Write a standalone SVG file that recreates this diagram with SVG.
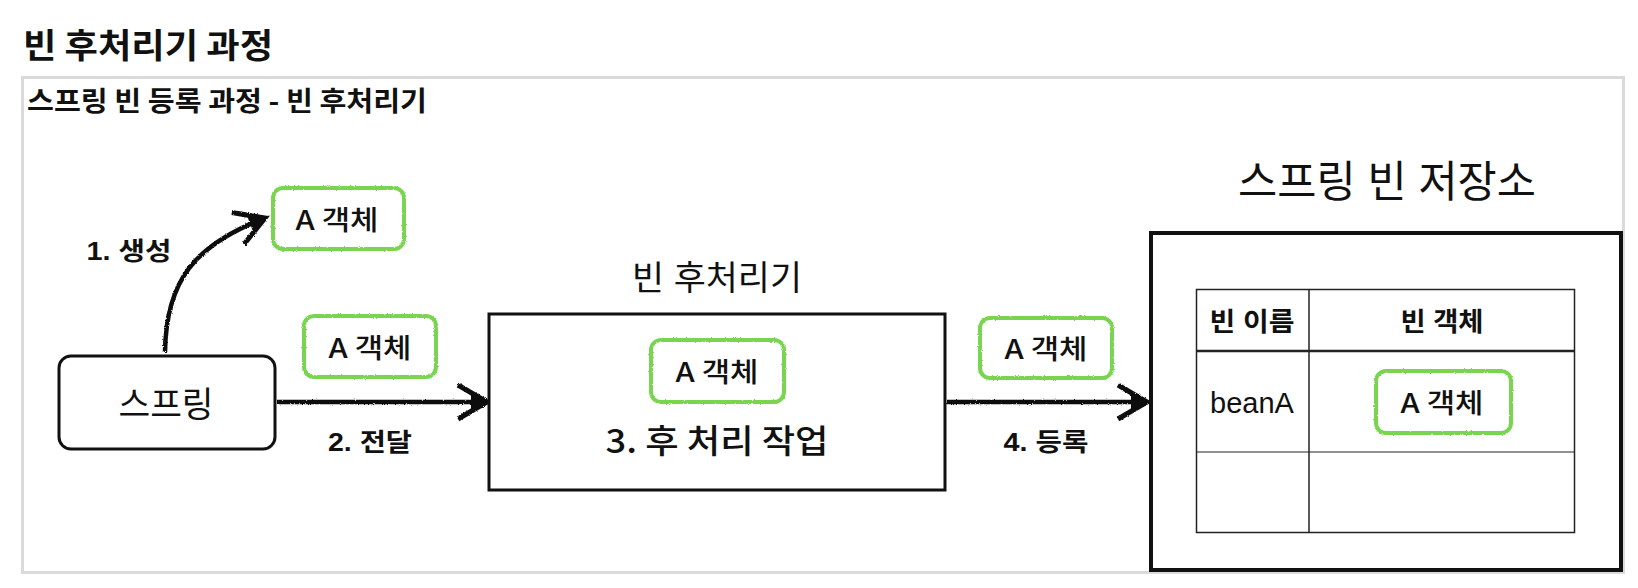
<svg xmlns="http://www.w3.org/2000/svg" width="1638" height="588" viewBox="0 0 1638 588">
<defs>
<style>
.t{font-family:"Liberation Sans","Noto Sans CJK KR",sans-serif;fill:#111}
.k{font-family:"Noto Sans CJK KR","Liberation Sans",sans-serif;fill:#111}
.b{font-weight:bold}
.md{font-weight:500}
.m{text-anchor:middle}
.obj{font-family:"Noto Sans CJK KR","Liberation Sans",sans-serif;fill:#111;font-weight:500;font-size:27px;text-anchor:middle}
.green{fill:#fff;stroke:#79d54f;stroke-width:4}
.box{fill:#fff;stroke:#111;stroke-width:3}
.conn{fill:none;stroke:#111;stroke-width:4.5}
.grid{stroke:#222;fill:none}
</style>
<filter id="rough" filterUnits="userSpaceOnUse" x="0" y="0" width="1638" height="588">
<feTurbulence type="fractalNoise" baseFrequency="0.9" numOctaves="2" seed="4"/>
<feDisplacementMap in="SourceGraphic" scale="2.5" xChannelSelector="R" yChannelSelector="G"/>
</filter>
<marker id="arrow" markerUnits="userSpaceOnUse" markerWidth="34" markerHeight="40" refX="30" refY="18" orient="auto" overflow="visible">
<path d="M1,1 L30,18 L1,35" fill="none" stroke="#111" stroke-width="5" stroke-linejoin="miter"/>
<path d="M14,9 L30,18 L14,27 Z" fill="#111"/>
</marker>
</defs>
<rect width="1638" height="588" fill="#fff"/>
<text class="k b" x="23" y="58" font-size="34" textLength="250" lengthAdjust="spacingAndGlyphs">빈 후처리기 과정</text>
<rect x="22.5" y="77.5" width="1601" height="495" fill="#fff" stroke="#dadada" stroke-width="3"/>
<text class="k b" x="27" y="111" font-size="27" textLength="400" lengthAdjust="spacingAndGlyphs">스프링 빈 등록 과정 - 빈 후처리기</text>

<g id="connectors" filter="url(#rough)">
<path class="conn" d="M165,352 C166,280 195,245 265,218" marker-end="url(#arrow)"/>
<path class="conn" d="M277,402 L487,402" marker-end="url(#arrow)"/>
<path class="conn" d="M947,402 L1147,402" marker-end="url(#arrow)"/>
</g>
<text class="t b m" x="129" y="260" font-size="25" textLength="85" lengthAdjust="spacingAndGlyphs">1. 생성</text>
<text class="t b m" x="370" y="451" font-size="25" textLength="84" lengthAdjust="spacingAndGlyphs">2. 전달</text>
<text class="t b m" x="1046" y="451" font-size="25" textLength="85" lengthAdjust="spacingAndGlyphs">4. 등록</text>

<g id="spring">
<rect class="box" x="59" y="356" width="216" height="93" rx="12"/>
<text class="t m" x="166" y="417" font-size="35" textLength="95" lengthAdjust="spacingAndGlyphs">스프링</text>
</g>

<g id="obj-created">
<rect class="green" x="273" y="188" width="131" height="61" rx="10" filter="url(#rough)"/>
<text class="obj" x="337" y="230" textLength="83" lengthAdjust="spacingAndGlyphs">A 객체</text>
</g>

<g id="obj-passed">
<rect class="green" x="304" y="316" width="132" height="61" rx="10" filter="url(#rough)"/>
<text class="obj" x="370" y="358" textLength="83" lengthAdjust="spacingAndGlyphs">A 객체</text>
</g>

<g id="post-processor">
<text class="t m" x="717" y="290" font-size="34" textLength="170" lengthAdjust="spacingAndGlyphs">빈 후처리기</text>
<rect class="box" x="489" y="314" width="456" height="176"/>
<rect class="green" x="651" y="340" width="133" height="62" rx="10" filter="url(#rough)"/>
<text class="obj" x="717" y="382" textLength="83" lengthAdjust="spacingAndGlyphs">A 객체</text>
<text class="k md m" x="717" y="453" font-size="33" textLength="223" lengthAdjust="spacingAndGlyphs">3. 후 처리 작업</text>
</g>

<g id="obj-registered">
<rect class="green" x="980" y="318" width="132" height="60" rx="10" filter="url(#rough)"/>
<text class="obj" x="1046" y="359" textLength="83" lengthAdjust="spacingAndGlyphs">A 객체</text>
</g>

<g id="bean-storage">
<text class="t m" x="1387" y="197" font-size="43" textLength="298" lengthAdjust="spacingAndGlyphs">스프링 빈 저장소</text>
<rect x="1151" y="233" width="470" height="337" fill="#fff" stroke="#111" stroke-width="4"/>
<rect class="grid" x="1196.5" y="289.5" width="378" height="243" stroke-width="1.5"/>
<line class="grid" x1="1309" y1="289" x2="1309" y2="533" stroke-width="1.5"/>
<line class="grid" x1="1196" y1="351" x2="1575" y2="351" stroke-width="2.5"/>
<line class="grid" x1="1196" y1="452" x2="1575" y2="452" stroke-width="1"/>
<text class="t b m" x="1252" y="331" font-size="26" textLength="85" lengthAdjust="spacingAndGlyphs">빈 이름</text>
<text class="t b m" x="1442" y="331" font-size="26" textLength="83" lengthAdjust="spacingAndGlyphs">빈 객체</text>
<text class="t m" x="1252" y="413" font-size="29">beanA</text>
<rect class="green" x="1376" y="371" width="135" height="62" rx="10" filter="url(#rough)"/>
<text class="obj" x="1442" y="413" textLength="83" lengthAdjust="spacingAndGlyphs">A 객체</text>
</g>
</svg>
